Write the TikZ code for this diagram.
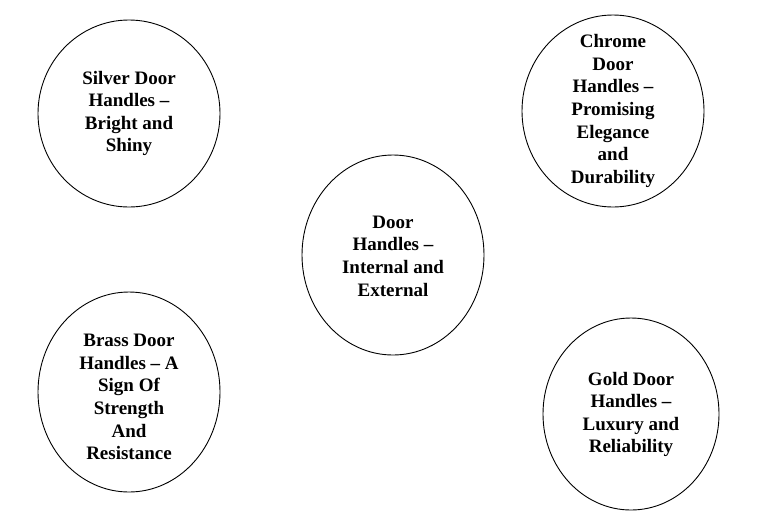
\documentclass[tikz,border=0pt]{standalone}
\usepackage{fontspec}
\setmainfont{Liberation Serif}
\usetikzlibrary{shapes.geometric}
\begin{document}
\begin{tikzpicture}[x=1pt,y=-1pt,
  ring/.style={draw=black, line width=0.9pt, ellipse, inner sep=0pt},
  caption/.style={align=center, inner sep=0pt, font=\fontsize{19}{22.6}\selectfont\bfseries}]
\path[use as bounding box, fill=white] (0,0) rectangle (757,523);
\node[ring, minimum width=182pt, minimum height=187pt] (silver) at (129,113.5) {};
\node[ring, minimum width=182pt, minimum height=192pt] (chrome) at (613,111) {};
\node[ring, minimum width=182pt, minimum height=200pt] (door) at (393,255) {};
\node[ring, minimum width=182pt, minimum height=200pt] (brass) at (129,392) {};
\node[ring, minimum width=176pt, minimum height=192pt] (gold) at (631,414) {};
\node[caption] (silvert) at (129,113.5) {Silver Door\\Handles –\\Bright and\\Shiny};
\node[caption] (chromet) at (613,111) {Chrome\\Door\\Handles –\\Promising\\Elegance\\and\\Durability};
\node[caption] (doort) at (393,256) {Door\\Handles –\\Internal and\\External};
\node[caption] (brasst) at (129,397) {Brass Door\\Handles – A\\Sign Of\\Strength\\And\\Resistance};
\node[caption] (goldt) at (631,414.5) {Gold Door\\Handles –\\Luxury and\\Reliability};
\end{tikzpicture}
\end{document}
